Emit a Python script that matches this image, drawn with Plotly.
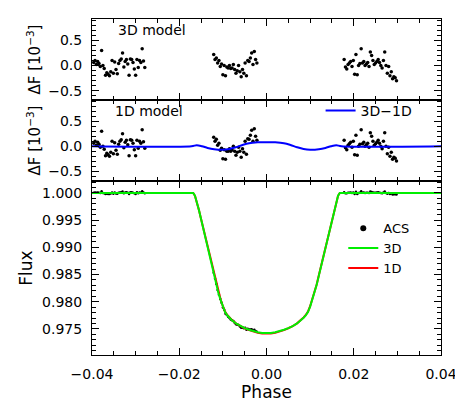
import plotly.graph_objects as go
from plotly.subplots import make_subplots

# ACS phases (three visits)
phase_left = [-0.0396, -0.0393, -0.0390, -0.0387, -0.0384, -0.0381, -0.0378, -0.0375,
              -0.0372, -0.0369, -0.0366, -0.0363, -0.0360, -0.0357, -0.0354, -0.0351,
              -0.0348, -0.0345, -0.0342, -0.0339, -0.0336, -0.0333, -0.0330, -0.0327,
              -0.0324, -0.0321, -0.0318, -0.0315, -0.0312, -0.0309, -0.0306, -0.0303,
              -0.0300, -0.0297, -0.0294, -0.0291, -0.0288, -0.0285, -0.0282, -0.0279]
phase_mid = [-0.0121, -0.0118, -0.0115, -0.0112, -0.0109, -0.0106, -0.0103, -0.0100,
             -0.0097, -0.0094, -0.0091, -0.0088, -0.0085, -0.0082, -0.0079, -0.0076,
             -0.0073, -0.0070, -0.0067, -0.0064, -0.0061, -0.0058, -0.0055, -0.0052,
             -0.0049, -0.0046, -0.0043, -0.0040, -0.0037, -0.0034, -0.0031, -0.0028,
             -0.0025, -0.0022]
phase_right = [0.0178, 0.0181, 0.0184, 0.0187, 0.0190, 0.0193, 0.0196, 0.0199,
               0.0202, 0.0205, 0.0208, 0.0211, 0.0214, 0.0217, 0.0220, 0.0223,
               0.0226, 0.0229, 0.0232, 0.0235, 0.0238, 0.0241, 0.0244, 0.0247,
               0.0250, 0.0253, 0.0256, 0.0259, 0.0262, 0.0265, 0.0268, 0.0271,
               0.0274, 0.0277, 0.0280, 0.0283, 0.0286, 0.0289, 0.0292, 0.0295, 0.0298]

# residuals against the 3D model [1e-3]
res3d_left = [0.06, 0.10, 0.02, 0.08, 0.04, -0.02, 0.30, 0.00, -0.06, -0.19,
              -0.14, -0.17, -0.20, -0.12, 0.10, -0.15, 0.07, -0.08, -0.16, 0.04,
              0.10, 0.13, 0.25, -0.03, 0.08, 0.12, 0.03, -0.19, 0.13, 0.12,
              0.06, -0.07, -0.19, 0.12, -0.04, 0.10, 0.06, 0.33, 0.09, -0.04]
res3d_mid = [0.22, 0.12, 0.15, 0.05, 0.10, -0.02, 0.03, -0.18, 0.00, -0.20,
             -0.03, -0.05, 0.00, -0.06, -0.05, 0.02, -0.08, -0.15, -0.10, 0.00,
             -0.12, -0.22, -0.08, -0.15, 0.05, -0.20, 0.10, 0.08, 0.15, 0.25,
             0.02, 0.28, 0.12, 0.05]
res3d_right = [0.12, -0.03, -0.07, 0.02, 0.05, 0.08, -0.02, 0.10, -0.17, 0.22,
               -0.18, 0.00, 0.04, 0.33, 0.05, 0.08, 0.00, 0.03, 0.06, -0.02,
               0.27, 0.20, 0.10, 0.02, 0.05, 0.08, 0.12, 0.06, 0.00, -0.05,
               0.10, 0.27, 0.00, -0.15, -0.02, -0.20, -0.12, -0.26, -0.22, -0.24, -0.30]

# residuals against the 1D model, in-transit part [1e-3]
res1d_mid = [0.18, 0.10, 0.14, 0.02, 0.06, -0.08, -0.04, -0.25, -0.07, -0.26,
             -0.10, -0.10, -0.05, -0.10, -0.07, 0.00, -0.10, -0.18, -0.12, -0.02,
             -0.10, -0.22, -0.05, -0.12, 0.10, -0.16, 0.15, 0.14, 0.22, 0.32,
             0.10, 0.35, 0.20, 0.12]

# ACS normalised flux
flux_left = [1.00006, 1.00010, 1.00002, 1.00008, 1.00004, 0.99998, 1.00030, 1.00000,
             0.99994, 0.99981, 0.99986, 0.99983, 0.99980, 0.99988, 1.00010, 0.99985,
             1.00007, 0.99992, 0.99984, 1.00004, 1.00010, 1.00013, 1.00025, 0.99997,
             1.00008, 1.00012, 1.00003, 0.99981, 1.00013, 1.00012, 1.00006, 0.99993,
             0.99981, 1.00012, 0.99996, 1.00010, 1.00006, 1.00033, 1.00009, 0.99996]
flux_mid = [0.98532, 0.98422, 0.98325, 0.98215, 0.98130, 0.98048, 0.97983, 0.97892,
            0.97850, 0.97780, 0.97757, 0.97725, 0.97700, 0.97674, 0.97658, 0.97644,
            0.97613, 0.97585, 0.97575, 0.97570, 0.97543, 0.97522, 0.97527, 0.97511,
            0.97521, 0.97484, 0.97502, 0.97488, 0.97489, 0.97493, 0.97464, 0.97484,
            0.97462, 0.97449]
flux_right = [1.00012, 0.99997, 0.99993, 1.00002, 1.00005, 1.00008, 0.99998, 1.00010,
              0.99983, 1.00022, 0.99982, 1.00000, 1.00004, 1.00033, 1.00005, 1.00008,
              1.00000, 1.00003, 1.00006, 0.99998, 1.00027, 1.00020, 1.00010, 1.00002,
              1.00005, 1.00008, 1.00012, 1.00006, 1.00000, 0.99995, 1.00010, 1.00027,
              1.00000, 0.99985, 0.99998, 0.99980, 0.99988, 0.99974, 0.99978, 0.99976, 0.99970]

# transit models
model_phase = [-0.04, -0.0168, -0.0164, -0.016, -0.0155, -0.015, -0.0145, -0.014,
               -0.0135, -0.013, -0.0125, -0.012, -0.0115, -0.011, -0.0105, -0.01,
               -0.0095, -0.009, -0.0085, -0.008, -0.007, -0.006, -0.005, -0.004,
               -0.003, -0.002, -0.001, 0.0, 0.001, 0.002, 0.003, 0.004, 0.005,
               0.006, 0.007, 0.008, 0.0085, 0.009, 0.0095, 0.01, 0.0105, 0.011,
               0.0115, 0.012, 0.0125, 0.013, 0.0135, 0.014, 0.0145, 0.015, 0.0155,
               0.016, 0.0164, 0.0168, 0.04]
model_3d = [1.0, 1.0, 0.9995, 0.9985, 0.9969, 0.9952, 0.9935, 0.9918,
            0.9900, 0.9883, 0.9865, 0.9848, 0.9831, 0.9815, 0.9803, 0.9791,
            0.9781, 0.9775, 0.97705, 0.97665, 0.9760, 0.9755, 0.97515, 0.97484,
            0.97458, 0.97438, 0.97423, 0.97418, 0.97423, 0.97438, 0.97458, 0.97484, 0.97515,
            0.9755, 0.9760, 0.97665, 0.97705, 0.9775, 0.9781, 0.9791, 0.9803, 0.9815,
            0.9831, 0.9848, 0.9865, 0.9883, 0.9900, 0.9918, 0.9935, 0.9952, 0.9969,
            0.9985, 0.9995, 1.0, 1.0]
model_1d = [1.0, 0.99999, 0.99948, 0.99848, 0.99689, 0.9952, 0.99351, 0.99182,
            0.99004, 0.98834, 0.98655, 0.98486, 0.98316, 0.98157, 0.98037, 0.97917,
            0.97817, 0.97756, 0.97711, 0.97669, 0.97602, 0.97549, 0.97512, 0.97478,
            0.97451, 0.9743, 0.97415, 0.9741, 0.97415, 0.9743, 0.97451, 0.97478, 0.97512,
            0.97549, 0.97602, 0.97669, 0.97711, 0.97756, 0.97817, 0.97917, 0.98037, 0.98157,
            0.98316, 0.98486, 0.98655, 0.98834, 0.99004, 0.99182, 0.99351, 0.9952, 0.99689,
            0.99848, 0.99948, 0.99999, 1.0]

# 3D - 1D difference [1e-3]
diff_phase = [-0.04, -0.0172, -0.016, -0.0148, -0.0135, -0.012, -0.01, -0.0085,
              -0.007, -0.0055, -0.004, -0.002, 0.0, 0.002, 0.004, 0.0055, 0.007,
              0.0085, 0.01, 0.012, 0.0135, 0.0148, 0.016, 0.0172, 0.04]
diff_3d1d = [0.0, 0.0, 0.02, 0.0, -0.035, -0.06, -0.07, -0.055,
             -0.02, 0.025, 0.06, 0.078, 0.082, 0.078, 0.06, 0.025, -0.02,
             -0.055, -0.07, -0.06, -0.035, 0.0, 0.02, 0.0, 0.0]

acs_phase = phase_left + phase_mid + phase_right
acs_res3d = res3d_left + res3d_mid + res3d_right
acs_res1d = res3d_left + res1d_mid + res3d_right
acs_flux = flux_left + flux_mid + flux_right

FONT = "DejaVu Sans"

fig = make_subplots(rows=3, cols=1, shared_xaxes=True,
                    vertical_spacing=0, row_heights=[81, 81, 174])

# top: 3D residuals
fig.add_trace(go.Scatter(x=acs_phase, y=acs_res3d, mode="markers",
                         marker=dict(color="black", size=3.5),
                         showlegend=False), row=1, col=1)

# middle: 1D residuals + difference curve
fig.add_trace(go.Scatter(x=acs_phase, y=acs_res1d, mode="markers",
                         marker=dict(color="black", size=3.5),
                         showlegend=False), row=2, col=1)
fig.add_trace(go.Scatter(x=diff_phase, y=diff_3d1d, mode="lines",
                         line=dict(color="#0000ff", width=2, shape="spline"),
                         name="3D\u22121D", legend="legend2"), row=2, col=1)

# bottom: light curve
fig.add_trace(go.Scatter(x=acs_phase, y=acs_flux, mode="markers",
                         marker=dict(color="black", size=2.5),
                         showlegend=False), row=3, col=1)
# legend entry for the data (bigger symbol than the plotted dots)
fig.add_trace(go.Scatter(x=[None], y=[None], mode="markers",
                         marker=dict(color="black", size=6),
                         name="ACS", legendrank=1), row=3, col=1)
fig.add_trace(go.Scatter(x=model_phase, y=model_1d, mode="lines",
                         line=dict(color="#ff0000", width=2),
                         name="1D", legendrank=3), row=3, col=1)
fig.add_trace(go.Scatter(x=model_phase, y=model_3d, mode="lines",
                         line=dict(color="#00ee00", width=2),
                         name="3D", legendrank=2), row=3, col=1)

axis_common = dict(showline=True, linecolor="black", linewidth=1, mirror="allticks",
                   ticks="inside", ticklen=7, tickwidth=1, tickcolor="black",
                   showgrid=False, zeroline=False, automargin=False)

fig.update_xaxes(range=[-0.04, 0.04], tick0=0, dtick=0.02, tickformat=".2f",
                 minor=dict(dtick=0.005, ticks="inside", ticklen=4, tickcolor="black"),
                 ticklabelstandoff=6, **axis_common)
fig.update_xaxes(title=dict(text="Phase", standoff=5), row=3, col=1)

for r, rng in [(1, [-0.68, 0.92]), (2, [-0.70, 0.93])]:
    fig.update_yaxes(range=rng, tick0=0, dtick=0.5, tickformat=".1f",
                     minor=dict(dtick=0.1, ticks="inside", ticklen=4, tickcolor="black"),
                     title=dict(text="\u0394F [10<sup>\u22123</sup>]", standoff=3,
                                font=dict(size=15)),
                     ticklabelstandoff=6, row=r, col=1, **axis_common)
fig.update_yaxes(range=[0.9702, 1.0022], tick0=0.975, dtick=0.005, tickformat=".3f",
                 minor=dict(dtick=0.001, ticks="inside", ticklen=4, tickcolor="black"),
                 title=dict(text="Flux", standoff=5),
                 ticklabelstandoff=6, row=3, col=1, **axis_common)

fig.add_annotation(text="3D model", x=-0.0345, y=0.86, xref="x", yref="y domain",
                   xanchor="left", yanchor="middle", showarrow=False)
fig.add_annotation(text="1D model", x=-0.0352, y=0.86, xref="x2", yref="y2 domain",
                   xanchor="left", yanchor="middle", showarrow=False)

# the page body adds an 8 px offset, so the figure is a bit smaller than the window
fig.update_layout(
    width=455, height=397,
    margin=dict(l=84, r=22, t=11, b=50),
    paper_bgcolor="white", plot_bgcolor="white",
    font=dict(family=FONT, size=14, color="black"),
    legend=dict(x=0.72, y=0.422, xanchor="left", yanchor="top",
                bgcolor="rgba(0,0,0,0)", itemwidth=30, tracegroupgap=0,
                font=dict(size=13)),
    legend2=dict(x=0.655, y=0.774, xanchor="left", yanchor="top",
                 bgcolor="rgba(0,0,0,0)", itemwidth=30,
                 font=dict(size=14)),
)

fig.write_html("out.html")
